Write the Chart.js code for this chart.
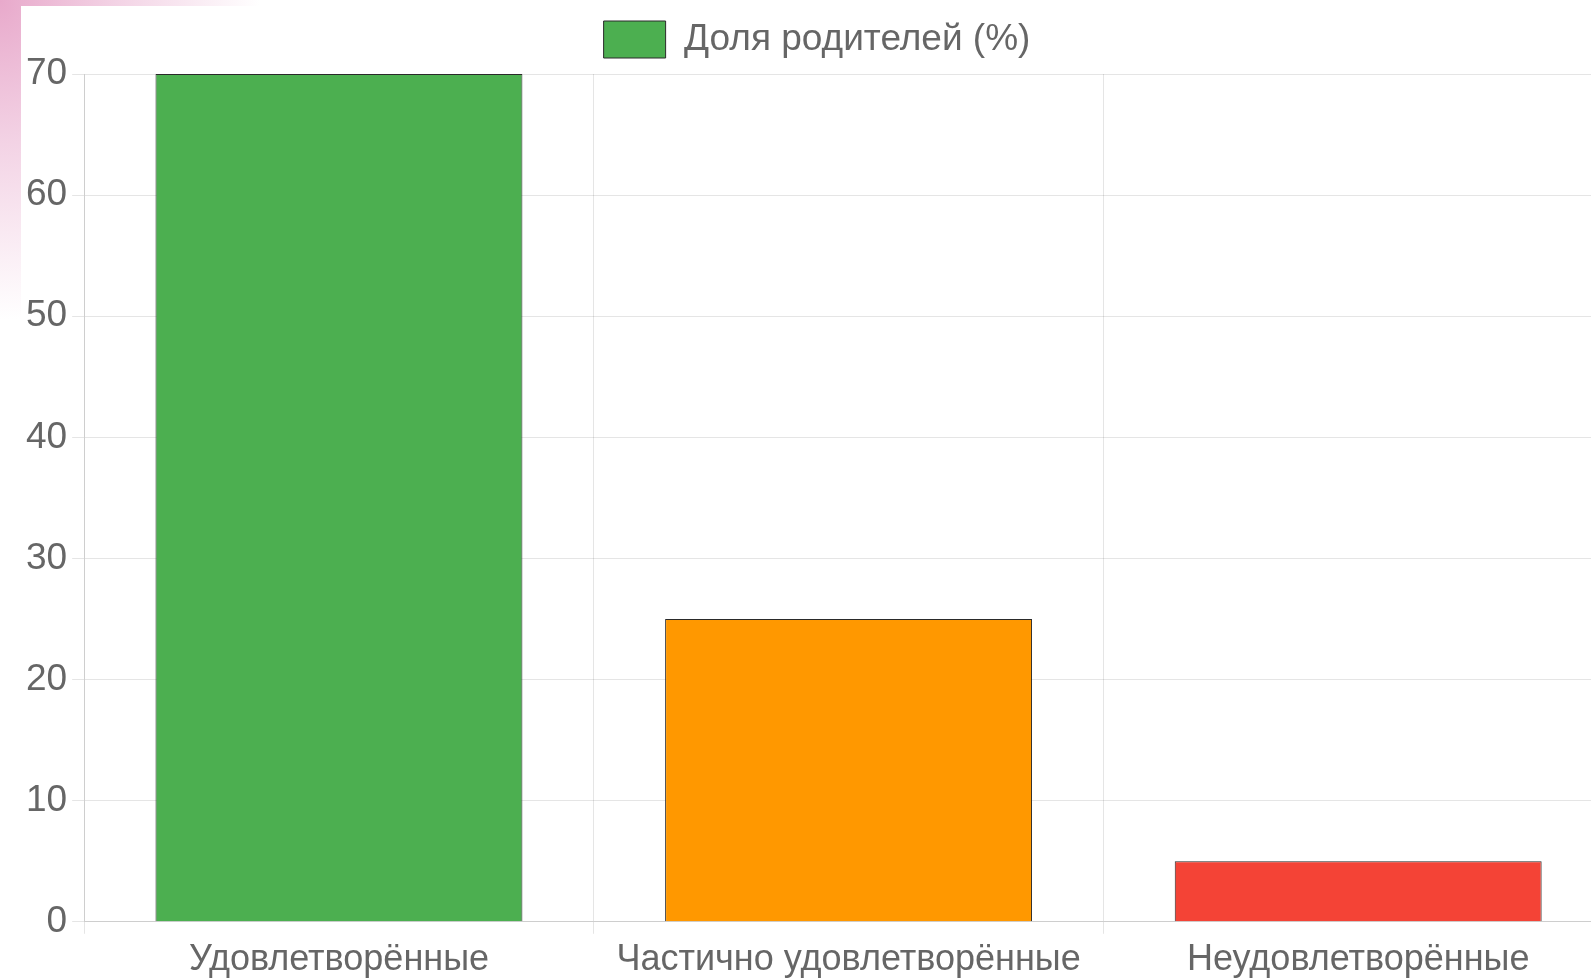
<!DOCTYPE html>
<html lang="ru">
<head>
<meta charset="utf-8">
<title>Доля родителей</title>
<script src="https://cdn.jsdelivr.net/npm/chart.js@4/dist/chart.umd.min.js"></script>
<style>
  html, body {
    margin: 0;
    width: 1591px;
    height: 979px;
    overflow: hidden;
    background: radial-gradient(ellipse 260px 320px at 0 0, #e8a9cb 0%, #f3d3e5 45%, #ffffff 100%);
  }
  #wrap {
    position: absolute;
    left: 21px;
    top: 6px;
    width: 1592px;
    height: 981px;
    background: #fff;
  }
</style>
</head>
<body>
<div id="wrap"><canvas id="parentsChart"></canvas></div>
<script>
const categories = ["Удовлетворённые", "Частично удовлетворённые", "Неудовлетворённые"];
const shares = [70, 25, 5];
const barColors = ["#4caf50", "#ff9800", "#f44336"];
const seriesLabel = "Доля родителей (%)";

Chart.defaults.font.family = "'Liberation Sans', Arial, sans-serif";
Chart.defaults.color = "#666";

// extra space under the legend
const legendGap = {
  id: "legendGap",
  beforeInit(chart) {
    const fit = chart.legend.fit;
    chart.legend.fit = function () {
      fit.bind(chart.legend)();
      this.height += 6;
    };
  }
};

const ctx = document.getElementById("parentsChart").getContext("2d");

new Chart(ctx, {
  type: "bar",
  data: {
    labels: categories,
    datasets: [{
      label: seriesLabel,
      data: shares,
      backgroundColor: barColors,
      borderColor: "#2a2a2a",
      borderWidth: 1
    }]
  },
  options: {
    responsive: true,
    maintainAspectRatio: false,
    animation: false,
    layout: { padding: 0 },
    plugins: {
      legend: {
        position: "top",
        labels: {
          font: { size: 37 },
          boxWidth: 62,
          boxHeight: 37,
          padding: 15
        }
      },
      tooltip: { enabled: false }
    },
    scales: {
      x: {
        grid: { color: "rgba(0,0,0,0.1)", tickLength: 12, offset: true },
        border: { color: "rgba(0,0,0,0.1)" },
        ticks: { font: { size: 36 }, padding: 5, maxRotation: 0 }
      },
      y: {
        min: 0,
        max: 70,
        grid: { color: "rgba(0,0,0,0.1)", tickLength: 12 },
        border: { color: "rgba(0,0,0,0.1)" },
        ticks: { stepSize: 10, font: { size: 37 }, padding: 5 }
      }
    }
  },
  plugins: [legendGap]
});
</script>
</body>
</html>
